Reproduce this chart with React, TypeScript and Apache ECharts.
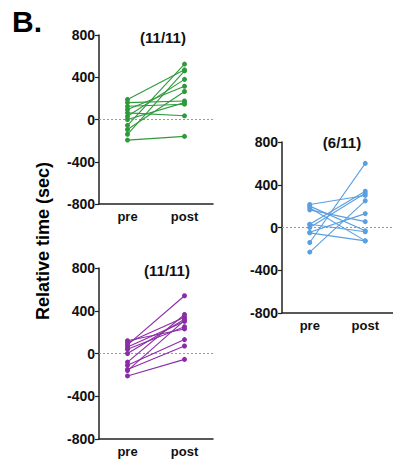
import React, { useEffect, useRef } from "react";
import * as echarts from "echarts";

const categories = ["pre", "post"];
const yTicks = [800, 400, 0, -400, -800];

const greenPre = [190, 160, 125, 95, 63, 30, 0, -55, -95, -140, -195];
const greenPost = [470, 175, 145, 315, 35, 380, 160, 525, 265, 460, -160];

const bluePre = [-140, -230, 215, 185, 165, 30, 30, -45, -50, 0, 200];
const bluePost = [600, 250, 300, -125, 55, 340, -40, 130, -125, 320, -30];

const purplePre = [120, 100, 80, 60, 40, 0, -80, -110, -150, -160, -210];
const purplePost = [230, 340, 540, 300, 250, 320, 365, 130, 70, 310, -55];

const titles = ["(11/11)", "(6/11)", "(11/11)"];

const FONT = "'Liberation Sans', Arial, sans-serif";

export default function App() {
  const ref = useRef<HTMLDivElement>(null);
  useEffect(() => {
    if (!ref.current) return;
    const chart = echarts.init(ref.current, undefined, { renderer: "svg" });
    const grids = [
      { left: 99, top: 35, width: 114, height: 169 },
      { left: 282, top: 142, width: 114, height: 171 },
      { left: 99, top: 268, width: 114, height: 171 },
    ];
    const panels = [
      { pre: greenPre, post: greenPost, color: "#2f9a3c" },
      { pre: bluePre, post: bluePost, color: "#5a9fe0" },
      { pre: purplePre, post: purplePost, color: "#8a2ca6" },
    ];
    const xAxes = grids.map((_, i) => ({
      type: "category",
      gridIndex: i,
      data: categories,
      boundaryGap: true,
      axisLine: { onZero: false, lineStyle: { color: "#222", width: 1.5 } },
      axisTick: { alignWithLabel: true, length: 4, lineStyle: { color: "#222", width: 1.2 } },
      axisLabel: { color: "#111", fontWeight: "bold", fontSize: 13, fontFamily: FONT, margin: 6 },
      splitLine: { show: false },
    }));
    const yAxes = grids.map((_, i) => ({
      type: "value",
      gridIndex: i,
      min: yTicks[yTicks.length - 1],
      max: yTicks[0],
      interval: 400,
      axisLine: { show: true, onZero: false, lineStyle: { color: "#222", width: 1.5 } },
      axisTick: { show: true, length: 4, lineStyle: { color: "#222", width: 1.2 } },
      axisLabel: { color: "#111", fontWeight: "bold", fontSize: 14, fontFamily: FONT, margin: 4 },
      splitLine: { show: false },
    }));
    const series: any[] = [];
    panels.forEach((p, i) => {
      p.pre.forEach((v, k) => {
        series.push({
          type: "line",
          xAxisIndex: i,
          yAxisIndex: i,
          data: [v, p.post[k]],
          symbol: "circle",
          symbolSize: 5,
          lineStyle: { color: p.color, width: 1.1 },
          itemStyle: { color: p.color },
          silent: true,
          ...(k === 0
            ? {
                markLine: {
                  silent: true,
                  symbol: "none",
                  label: { show: false },
                  z: 1,
                  lineStyle: { color: "#999", type: [2, 2], width: 1 },
                  data: [{ yAxis: 0 }],
                },
              }
            : {}),
          z: 3,
        });
      });
    });
    const titleDefs = [
      { x: 163, y: 37 },
      { x: 342, y: 142 },
      { x: 167, y: 270 },
    ];
    chart.setOption({
      animation: false,
      grid: grids,
      xAxis: xAxes,
      yAxis: yAxes,
      series,
      graphic: [
        {
          type: "text",
          x: 12,
          y: 21,
          style: { text: "B.", fontSize: 30, fontWeight: "bold", fontFamily: FONT, fill: "#000", textVerticalAlign: "middle" },
        },
        {
          type: "text",
          x: 43,
          y: 241,
          rotation: Math.PI / 2,
          style: {
            text: "Relative time (sec)",
            fontSize: 18,
            fontWeight: "bold",
            fontFamily: FONT,
            fill: "#000",
            textAlign: "center",
            textVerticalAlign: "middle",
          },
        },
        ...titleDefs.map((t, i) => ({
          type: "text",
          x: t.x,
          y: t.y,
          style: {
            text: titles[i],
            fontSize: 15,
            fontWeight: "bold",
            fontFamily: FONT,
            fill: "#111",
            textAlign: "center",
            textVerticalAlign: "middle",
          },
        })),
      ],
    });
    return () => chart.dispose();
  }, []);
  return <div ref={ref} style={{ position: "absolute", left: 0, top: 0, width: 393, height: 465 }} />;
}
